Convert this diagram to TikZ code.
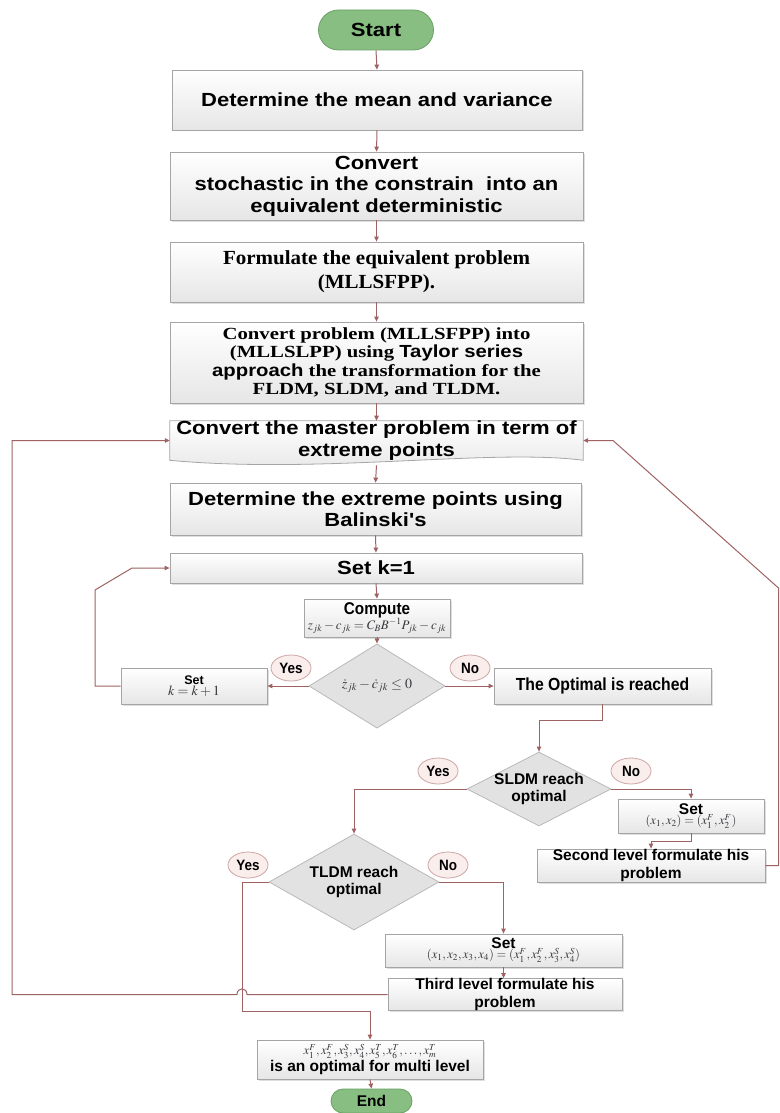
\documentclass[tikz,border=0pt]{standalone}
\usepackage{mathptmx}
\usepackage{fontspec}
\usetikzlibrary{shapes.geometric,arrows.meta,shadows,backgrounds,calc}
\newfontfamily\sfx[FakeStretch=1.16]{Liberation Sans}
\newfontfamily\sfn{Liberation Sans}
\newfontfamily\sfc[FakeStretch=0.9]{Liberation Sans}
\newfontfamily\rmA[FakeStretch=1.05]{Liberation Serif}
\newfontfamily\rmB[FakeStretch=1.22]{Liberation Serif}
\definecolor{lc}{RGB}{158,98,98}
\definecolor{boxline}{RGB}{165,165,165}
\definecolor{boxbot}{RGB}{230,230,230}
\definecolor{dfill}{RGB}{226,226,226}
\definecolor{dline}{RGB}{185,185,185}
\definecolor{bubfill}{RGB}{250,238,236}
\definecolor{bubline}{RGB}{205,165,165}
\definecolor{termfill}{RGB}{136,190,130}
\definecolor{termline}{RGB}{105,160,100}
\definecolor{mathc}{RGB}{55,55,60}
\tikzset{
  box/.style={rectangle, draw=boxline, line width=0.8pt, top color=white, bottom color=boxbot,
    align=center, inner sep=2pt,
    drop shadow={opacity=0.25, shadow xshift=1.5pt, shadow yshift=-1.5pt}},
  bigsans/.style={font=\sfx\bfseries\fontsize{19}{21.5}\selectfont},
  midsans/.style={font=\sfn\bfseries\fontsize{15.5}{17.5}\selectfont},
  term/.style={rectangle, draw=termline, fill=termfill, line width=0.8pt, inner sep=0pt},
  dec/.style={diamond, draw=dline, fill=dfill, line width=0.8pt, inner sep=0pt, align=center},
  bub/.style={ellipse, draw=bubline, fill=bubfill, line width=0.8pt, minimum width=40pt,
    minimum height=26pt, inner sep=0pt, font=\sfc\bfseries\fontsize{15}{17}\selectfont},
  conn/.style={draw=lc, line width=1pt},
  arr/.style={conn, -{Triangle[length=5pt,width=4.5pt]}},
}
\begin{document}
\begin{tikzpicture}[x=1pt,y=-1pt]
\useasboundingbox (0,0) rectangle (779,1113);

% main column
\node[term, rounded corners=20pt, minimum width=115pt, minimum height=40pt, bigsans] (start) at (376,30) {Start};
\node[box, bigsans, minimum width=410pt, minimum height=60pt] (b1) at (377,100) {Determine the mean and variance};
\node[box, bigsans, minimum width=413pt, minimum height=68pt] (b2) at (376.5,186)
  {Convert\\stochastic in the constrain\ \ into an\\equivalent deterministic};
\node[box, font=\rmA\bfseries\fontsize{20}{24}\selectfont, minimum width=413pt, minimum height=60pt] (b3) at (376.5,272)
  {Formulate the equivalent problem\\(MLLSFPP).};
\node[box, font=\rmB\bfseries\fontsize{17}{18.5}\selectfont, minimum width=413pt, minimum height=81pt] (b4) at (376.5,362.5)
  {Convert problem (MLLSFPP) into\\(MLLSLPP) using {\sfx\bfseries\fontsize{17.5}{18.5}\selectfont Taylor series}\\
   {\sfx\bfseries\fontsize{17.5}{18.5}\selectfont approach} the transformation for the\\FLDM, SLDM, and TLDM.};
\node[bigsans, align=center, minimum width=413pt, minimum height=37pt, inner sep=0pt] (b5) at (376.5,440.5)
  {Convert the master problem in term of\\extreme points};
\begin{pgfonlayer}{background}
\shade[top color=white, bottom color=boxbot, draw=boxline, line width=0.8pt]
  (b5.north west) -- (b5.north east) -- (b5.south east)
  .. controls ($(b5.south east)+(-90,-12)$) and ($(b5.south west)+(150,14)$) .. (b5.south west) -- cycle;
\end{pgfonlayer}
\node[box, bigsans, minimum width=411pt, minimum height=52pt] (b6) at (375.5,509)
  {Determine the extreme points using\\Balinski's};
\node[box, bigsans, minimum width=412pt, minimum height=30pt] (b7) at (376,568) {Set k=1};
\node[box, minimum width=146pt, minimum height=38pt, inner sep=1pt] (comp) at (377,618)
  {{\sfc\bfseries\fontsize{17}{17}\selectfont Compute}\\[-1pt]
   {\color{mathc}\fontsize{13}{13}\selectfont $z_{jk}-c_{jk}=C_BB^{-1}P_{jk}-c_{jk}$}};
\node[dec, minimum width=136pt, minimum height=72pt] (d1) at (377,686)
  {\color{mathc}\fontsize{14}{14}\selectfont $\dot z_{jk}-\dot c_{jk}\le 0$};
\node[box, minimum width=146pt, minimum height=36pt, inner sep=1pt] (setk) at (194,686)
  {{\sfn\bfseries\fontsize{12.5}{13}\selectfont Set}\\[-1pt]{\color{mathc}\fontsize{14}{14}\selectfont $k=k+1$}};
\node[box, font=\sfc\bfseries\fontsize{17.5}{19}\selectfont, minimum width=217pt, minimum height=36pt] (opt) at (602.5,686)
  {The Optimal is reached};

% SLDM branch
\node[dec, minimum width=144pt, minimum height=74pt,
  label={[midsans, align=center]center:SLDM reach\\optimal}] (d2) at (539,789) {};
\node[box, minimum width=146pt, minimum height=34pt, inner sep=1pt] (set2) at (691,816)
  {{\sfn\bfseries\fontsize{15.5}{16}\selectfont Set}\\[-2pt]
   {\color{mathc}\fontsize{12.5}{13}\selectfont $(x_1,x_2)=(x_1^F,x_2^F)$}};
\node[box, midsans, minimum width=228pt, minimum height=33pt, inner sep=0pt] (second) at (651,865.5)
  {Second level formulate his\\problem};

% TLDM branch
\node[dec, minimum width=170pt, minimum height=96pt,
  label={[midsans, align=center]center:TLDM reach\\optimal}] (d3) at (354,882) {};
\node[box, minimum width=237pt, minimum height=33pt, inner sep=1pt] (set3) at (503.5,950.5)
  {{\sfn\bfseries\fontsize{15.5}{16}\selectfont Set}\\[-2pt]
   {\color{mathc}\fontsize{12.5}{13}\selectfont $(x_1,x_2,x_3,x_4)=(x_1^F,x_2^F,x_3^S,x_4^S)$}};
\node[box, midsans, minimum width=234pt, minimum height=31pt, inner sep=0pt] (third) at (505,994.5)
  {Third level formulate his\\problem};
\node[box, minimum width=226pt, minimum height=39pt, inner sep=1pt] (final) at (370,1059.5)
  {{\color{mathc}\fontsize{12.5}{13}\selectfont $x_1^F,x_2^F,x_3^S,x_4^S,x_5^T,x_6^T,\ldots,x_m^T$}\\[1pt]
   {\sfn\bfseries\fontsize{15.5}{17}\selectfont is an optimal for multi level}};
\node[term, rounded corners=12pt, minimum width=81pt, minimum height=24pt,
  font=\sfn\bfseries\fontsize{15.5}{17}\selectfont] (end) at (371.5,1101) {End};

% Yes / No bubbles
\node[bub] (y1) at (291,668) {Yes};
\node[bub] (n1) at (470,668) {No};
\node[bub] (y2) at (438,771) {Yes};
\node[bub] (n2) at (631,771) {No};
\node[bub] (y3) at (248,865) {Yes};
\node[bub] (n3) at (448,865) {No};

% bend coordinates
\coordinate (lk1) at (95,686);
\coordinate (lk2) at (95,590);
\coordinate (lk3) at (132,568);
\coordinate (r1) at (778.5,865.5);
\coordinate (r2) at (778.5,588);
\coordinate (r3) at (613,440.5);
\coordinate (h1) at (247,994.5);
\coordinate (h2) at (237,994.5);
\coordinate (l1) at (12,994.5);
\coordinate (l2) at (12,440.5);
\coordinate (yb) at (242,1011);

% connectors
\draw[arr] (start.south) -- (b1.north);
\draw[arr] (b1.south) -- (b2.north);
\draw[arr] (b2.south) -- (b3.north);
\draw[arr] (b3.south) -- (b4.north);
\draw[arr] (b4.south) -- (b5.north);
\draw[arr] ($(b5.south)+(0,5)$) -- (b6.north);
\draw[arr] (b6.south) -- (b7.north);
\draw[arr] (b7.south) -- (comp.north);
\draw[arr] (comp.south) -- (d1.north);
\draw[arr] (d1.west) -- (setk.east);
\draw[arr] (d1.east) -- (opt.west);
\draw[arr] (setk.west) -- (lk1) -- (lk2) -- (lk3) -- (b7.west);
\draw[arr] (opt.south) -- ++(0,16) -| (d2.north);
\draw[arr] (d2.east) -| (set2.north);
\draw[arr] (set2.south) -- ++(0,8) -| (second.north);
\draw[arr] (second.east) -- (r1) -- (r2) -- (r3) -- (b5.east);
\draw[arr] (d2.west) -| (d3.north);
\draw[arr] (d3.east) -| (set3.north);
\draw[arr] (set3.south) -- (set3.south |- third.north);
\draw[arr] (third.west) -- (h1) .. controls (247,987) and (237,987) .. (h2) -- (l1) -- (l2) -- (b5.west);
\draw[arr] (d3.west) -| (yb) -| (final.north);
\draw[arr] (final.south) -- (end.north);
\end{tikzpicture}
\end{document}
